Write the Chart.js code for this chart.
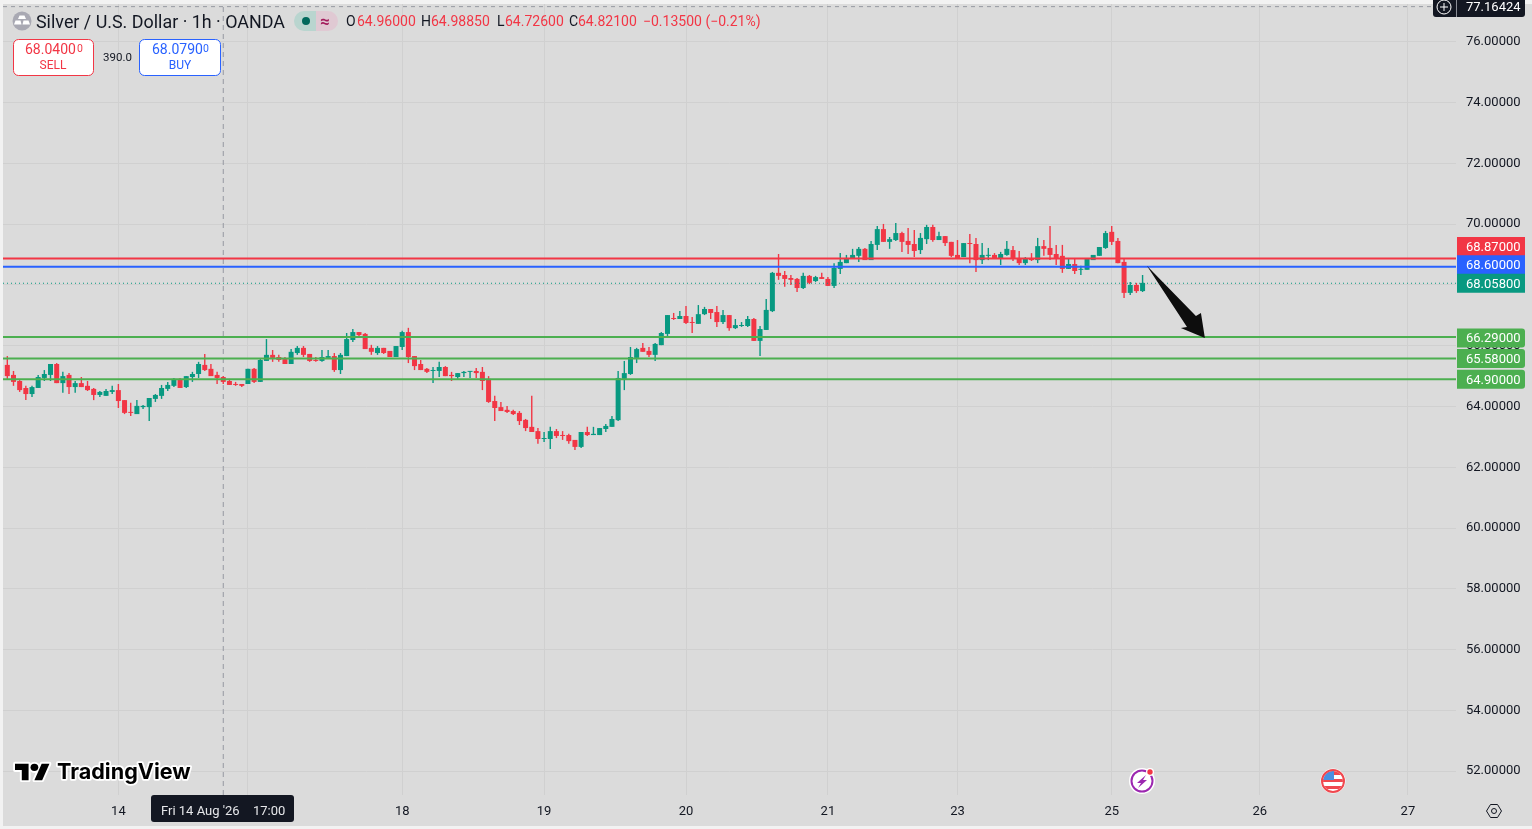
<!DOCTYPE html>
<html><head><meta charset="utf-8">
<style>html,body{margin:0;padding:0;background:#f2f2f2;overflow:hidden}#w{position:absolute;left:0;top:0;width:1532px;height:829px}</style>
<script src="https://cdn.jsdelivr.net/npm/chart.js@4"></script></head>
<body><div id="w"><canvas id="c"></canvas></div>
<script>
const highs=[65.66,65.17,64.87,64.68,64.68,65.04,65.20,65.40,65.43,65.14,
65.10,64.84,64.97,64.84,64.61,64.51,64.58,64.68,64.74,64.21,
64.12,64.21,64.05,64.28,64.41,64.71,64.81,64.94,64.94,65.00,
65.14,65.47,65.73,65.40,65.14,65.00,64.91,64.81,64.74,65.24,
65.27,65.56,66.22,65.86,65.70,65.63,65.89,65.99,65.99,65.73,
65.63,65.86,65.86,65.76,65.76,66.42,66.55,66.45,66.42,66.03,
65.99,65.93,65.83,65.99,66.49,66.59,65.66,65.53,65.27,65.30,
65.47,65.33,65.14,65.10,65.17,65.17,65.27,65.30,65.00,64.35,
64.15,64.02,63.89,63.85,63.59,64.35,63.29,63.16,63.33,63.26,
63.19,63.10,62.90,63.16,63.33,63.33,63.29,63.42,63.69,65.17,
65.50,65.96,65.93,66.09,65.96,66.09,66.45,67.01,67.08,67.14,
67.31,66.95,67.34,67.28,67.21,67.31,67.18,67.01,66.88,66.78,
66.98,66.91,66.65,67.54,68.43,69.02,68.46,68.33,68.23,68.40,
68.33,68.30,68.40,68.26,68.72,69.05,68.99,69.19,69.25,69.22,
69.45,69.94,70.01,69.58,70.04,69.75,69.88,69.81,69.71,69.98,
69.98,69.75,69.61,69.42,69.48,69.38,69.68,69.55,69.38,69.22,
69.05,69.09,69.45,69.28,69.12,68.92,69.05,69.55,69.48,69.94,
69.32,69.32,68.89,68.89,68.63,68.89,68.99,69.25,69.78,69.94,
69.55,68.86,68.10,68.07,68.33];
const lows=[64.89,64.68,64.48,64.21,64.31,64.61,64.84,64.84,64.77,64.45,
64.41,64.45,64.64,64.51,64.21,64.31,64.35,64.41,63.95,63.75,
63.69,63.75,63.92,63.52,64.15,64.25,64.51,64.64,64.61,64.61,
64.81,64.94,65.17,65.00,64.74,64.74,64.71,64.68,64.64,64.74,
64.77,64.81,65.50,65.47,65.47,65.40,65.40,65.70,65.63,65.47,
65.47,65.47,65.56,65.14,65.07,65.66,66.12,66.26,65.89,65.70,
65.70,65.73,65.63,65.63,65.86,65.43,65.20,65.20,65.10,64.77,
64.97,65.00,64.84,64.91,64.97,64.94,64.94,64.54,64.12,63.52,
63.85,63.79,63.72,63.39,63.19,63.16,62.77,62.83,62.60,62.96,
62.90,62.77,62.57,62.63,63.03,63.06,63.06,63.16,63.33,63.52,
64.54,65.04,65.43,65.80,65.63,65.50,66.02,66.32,66.85,66.88,
66.72,66.42,66.72,67.01,66.88,66.62,66.72,66.49,66.55,66.62,
66.62,66.16,65.66,66.52,67.11,68.17,67.94,68.00,67.77,67.87,
68.03,68.10,68.20,67.97,67.90,68.36,68.72,68.86,68.76,68.82,
68.82,69.15,69.42,69.19,69.45,69.09,69.02,68.92,69.02,69.35,
69.42,69.48,69.28,68.92,68.89,68.92,68.72,68.43,68.69,68.82,
68.89,68.66,68.96,68.79,68.66,68.66,68.79,68.72,68.96,68.82,
68.66,68.40,68.53,68.36,68.33,68.50,68.82,68.96,69.19,69.32,
68.72,67.57,67.67,67.74,67.77];
const opens=[65.37,65.04,64.84,64.61,64.41,64.61,64.94,65.04,65.40,64.77,
65.04,64.64,64.77,64.68,64.58,64.38,64.35,64.48,64.54,64.21,
63.82,63.75,63.98,63.98,64.25,64.35,64.58,64.68,64.91,64.64,
64.97,65.07,65.37,65.24,65.04,64.97,64.84,64.74,64.74,64.74,
65.24,64.81,65.50,65.70,65.63,65.56,65.40,65.76,65.93,65.73,
65.53,65.50,65.60,65.66,65.20,65.66,66.19,66.45,66.39,65.93,
65.76,65.93,65.83,65.63,65.96,66.45,65.66,65.40,65.24,65.17,
65.17,65.30,65.04,64.97,65.10,65.14,65.17,65.14,64.91,64.18,
63.98,63.89,63.85,63.79,63.56,63.33,63.19,62.93,62.93,63.19,
63.06,63.06,62.90,62.67,63.16,63.06,63.06,63.26,63.33,63.55,
64.91,65.07,65.60,65.93,65.83,65.70,66.02,66.39,66.91,66.88,
66.98,66.78,66.72,67.04,67.21,67.11,66.78,67.01,66.58,66.65,
66.65,66.88,66.16,66.52,67.14,68.40,68.33,68.23,68.20,67.90,
68.30,68.13,68.26,68.20,67.97,68.53,68.72,68.86,68.96,69.19,
68.82,69.32,69.84,69.42,69.48,69.71,69.45,69.35,69.15,69.51,
69.91,69.48,69.61,69.42,68.99,68.92,69.38,69.35,68.82,68.96,
68.99,68.86,68.99,69.15,68.89,68.72,68.89,68.82,69.28,69.22,
69.02,68.96,68.53,68.69,68.50,68.50,68.82,68.96,69.22,69.75,
69.45,68.76,67.74,68.00,67.80];
const closes=[65.00,64.81,64.54,64.41,64.64,64.97,65.07,65.40,64.77,65.00,
64.64,64.77,64.64,64.54,64.38,64.48,64.51,64.54,64.18,63.79,
63.79,64.02,64.02,64.28,64.38,64.61,64.71,64.91,64.61,65.00,
65.07,65.40,65.20,65.00,64.94,64.81,64.71,64.71,64.68,65.24,
64.81,65.53,65.70,65.60,65.53,65.40,65.80,65.93,65.70,65.50,
65.50,65.63,65.66,65.20,65.70,66.22,66.45,66.35,65.89,65.80,
65.93,65.76,65.63,65.99,66.45,65.63,65.33,65.20,65.14,65.20,
65.30,65.00,65.00,65.10,65.14,65.17,65.10,64.84,64.15,63.95,
63.85,63.82,63.75,63.52,63.29,63.16,62.93,62.96,63.19,63.03,
63.03,62.86,62.67,63.16,63.06,63.10,63.29,63.36,63.59,64.94,
65.10,65.63,65.89,65.80,65.70,66.06,66.42,67.01,66.88,66.98,
66.75,66.75,67.04,67.21,67.08,66.78,67.01,66.58,66.68,66.68,
66.88,66.16,66.55,67.18,68.40,68.30,68.20,68.17,67.90,68.30,
68.07,68.26,68.20,67.97,68.56,68.76,68.89,68.99,69.19,68.82,
69.35,69.84,69.42,69.51,69.71,69.42,69.32,69.12,69.55,69.91,
69.48,69.61,69.38,68.96,68.89,69.38,69.35,68.82,68.99,68.99,
68.89,69.02,69.19,68.89,68.72,68.89,68.82,69.28,69.19,68.99,
68.89,68.53,68.69,68.46,68.53,68.86,68.99,69.25,69.71,69.42,
68.72,67.74,68.00,67.80,68.07];

const tickBars=[18,39,64,87,110,133,154,179,203,227];
const tickLabels=['14','17','18','19','20','21','23','25','26','27'];
const priceTicks=[52,54,56,58,60,62,64,66,68,70,72,74,76];
const priceLevels=[68.87,68.6,68.058,66.29,65.58,64.9];
const levelColors=['#f23645','#2962ff','#089981','#4caf50','#4caf50','#4caf50'];
const levelShift=[-12,-2,0,1,0,0];
const arrowPoints=[[184.7,68.63],[192.65,66.98],[193.46,67.08],[194.1,66.255],[190.2,66.585],[191.2,66.617]];
const crossBar=35, crossPrice=77.16424;
const xMin=-0.7, xMax=234.8, yMin=51.2099, yMax=77.251;

const UP='#089981', DOWN='#f23645', INK='#131722';
const FONT='Roboto, sans-serif';
const idx=highs.map((_,i)=>i);
const colors=idx.map(i=>closes[i]>=opens[i]?UP:DOWN);
const wickData=idx.map(i=>({x:i,y:[lows[i],highs[i]]}));
const bodyData=idx.map(i=>({x:i,y:[opens[i],closes[i]]}));
const hLine=(p,color,w,dash,x2)=>({type:'line',data:[{x:xMin,y:p},{x:x2===undefined?xMax:x2,y:p}],borderColor:color,borderWidth:w,borderDash:dash||[],pointRadius:0,order:0,parsing:true});

function txt(ctx,s,x,y,font,color,align){ctx.font=font;ctx.fillStyle=color;ctx.textAlign=align||'left';ctx.textBaseline='alphabetic';ctx.fillText(s,x,y);}
function rr(ctx,x,y,w,h,r,fill,stroke,lw){ctx.beginPath();ctx.roundRect(x,y,w,h,r);if(fill){ctx.fillStyle=fill;ctx.fill();}if(stroke){ctx.strokeStyle=stroke;ctx.lineWidth=lw||1;ctx.stroke();}}

const backdrop={id:'backdrop',beforeDraw(c){const g=c.ctx;g.save();g.fillStyle='#f2f2f2';g.fillRect(0,0,1532,829);g.fillStyle='#dbdbdb';g.fillRect(3,4,1529,822);g.restore();}};
const overlay={id:'overlay',afterDraw(c){
  const g=c.ctx,X=c.scales.x,Y=c.scales.y;g.save();
  g.beginPath();arrowPoints.forEach((p,i)=>{const a=X.getPixelForValue(p[0]),b=Y.getPixelForValue(p[1]);i?g.lineTo(a,b):g.moveTo(a,b);});g.closePath();g.fillStyle='#0d0d0d';g.fill();
  priceLevels.forEach((p,i)=>{const cy=Y.getPixelForValue(p)+levelShift[i];
    g.beginPath();g.roundRect(1457,cy-9.5,68,19,i>2?[0,3,3,0]:0);g.fillStyle=levelColors[i];g.fill();
    txt(g,p.toFixed(5),1466,cy+4.5,'13px '+FONT,'#ffffff');});
  rr(g,1433,-4,92,21,3,INK);
  g.strokeStyle='#ffffff';g.lineWidth=1;g.beginPath();g.arc(1444,7,7,0,7);g.stroke();
  g.beginPath();g.moveTo(1440,7);g.lineTo(1448,7);g.moveTo(1444,3);g.lineTo(1444,11);g.stroke();
  g.strokeStyle='#8a8d96';g.beginPath();g.moveTo(1456.5,0);g.lineTo(1456.5,17);g.stroke();
  txt(g,crossPrice.toFixed(5),1466,11,'13px '+FONT,'#ffffff');
  rr(g,151,795,143,27,3,INK);
  txt(g,"Fri 14 Aug '26",161,815,'13px '+FONT,'#e6e7ea');
  txt(g,'17:00',253,815,'13px '+FONT,'#e6e7ea');
  g.fillStyle='#a9a9b3';g.beginPath();g.arc(22,21,9.5,0,7);g.fill();
  g.fillStyle='#ffffff';g.beginPath();g.moveTo(19.5,15.5);g.lineTo(24.5,15.5);g.lineTo(26,19);g.lineTo(18,19);g.closePath();g.fill();
  g.beginPath();g.moveTo(15.5,20.5);g.lineTo(20.5,20.5);g.lineTo(21.5,24.5);g.lineTo(14,24.5);g.closePath();g.fill();
  g.beginPath();g.moveTo(23.5,20.5);g.lineTo(28.5,20.5);g.lineTo(30,24.5);g.lineTo(22.5,24.5);g.closePath();g.fill();
  txt(g,'Silver / U.S. Dollar · 1h · OANDA',36,28,'17.9px '+FONT,INK);
  g.beginPath();g.roundRect(294,11,22,20,[10,0,0,10]);g.fillStyle='#b9d5cf';g.fill();
  g.beginPath();g.roundRect(316,11,22,20,[0,10,10,0]);g.fillStyle='#e0c9d3';g.fill();
  g.fillStyle='#00695c';g.beginPath();g.arc(306,21,4,0,7);g.fill();
  txt(g,'≈',320,27,'bold 17px '+FONT,'#a31c5c');
  const ohlc=[['O','64.96000',346,357],['H','64.98850',421,431],['L','64.72600',497,505],['C','64.82100',569,578]];
  ohlc.forEach(r=>{txt(g,r[0],r[2],26,'14px '+FONT,INK);txt(g,r[1],r[3],26,'14px '+FONT,DOWN);});
  txt(g,'−0.13500 (−0.21%)',643,26,'14px '+FONT,DOWN);
  rr(g,13.5,39.5,80,36,5,'#ffffff',DOWN);
  rr(g,139.5,39.5,81,36,5,'#ffffff','#2962ff');
  txt(g,'68.0400',25,54,'14px '+FONT,DOWN);txt(g,'0',77,52,'10.5px '+FONT,DOWN);
  txt(g,'SELL',53,69,'12px '+FONT,DOWN,'center');
  txt(g,'68.0790',152,54,'14px '+FONT,'#2962ff');txt(g,'0',203,52,'10.5px '+FONT,'#2962ff');
  txt(g,'BUY',180,69,'12px '+FONT,'#2962ff','center');
  txt(g,'390.0',103,61,'11.5px '+FONT,INK);
  g.save();g.translate(15,760);g.scale(0.97,0.92);
  const tv=new Path2D('M14 22H7V11H0V4h14v18zM28 22h-8l7.5-18h8L28 22z');
  g.lineJoin='round';g.strokeStyle='#ffffff';g.lineWidth=4;g.stroke(tv);
  g.beginPath();g.arc(20,8,4,0,7);g.stroke();
  g.fillStyle='#000000';g.fill(tv);g.beginPath();g.arc(20,8,4,0,7);g.fill();g.restore();
  g.font='bold 21.6px Inter, sans-serif';g.textAlign='left';g.lineJoin='round';g.lineWidth=3.5;g.strokeStyle='#ffffff';g.strokeText('TradingView',57,779);g.fillStyle='#000000';g.fillText('TradingView',57,779);
  g.fillStyle='#ffffff';g.beginPath();g.arc(1142,781,13,0,7);g.fill();
  g.strokeStyle='#9c27b0';g.lineWidth=2;g.beginPath();g.arc(1142,781,10.5,0,7);g.stroke();
  g.fillStyle='#9c27b0';g.beginPath();g.moveTo(1146,775);g.lineTo(1137,783);g.lineTo(1141,783);g.lineTo(1138,788);g.lineTo(1147,780);g.lineTo(1143,780);g.closePath();g.fill();
  g.fillStyle='#ffffff';g.beginPath();g.arc(1150,772,4,0,7);g.fill();g.fillStyle='#f23645';g.beginPath();g.arc(1150,772,2.7,0,7);g.fill();
  g.fillStyle='#ffffff';g.beginPath();g.arc(1333,781,12.5,0,7);g.fill();
  g.save();g.beginPath();g.arc(1333,781,10,0,7);g.clip();
  g.fillStyle='#ffffff';g.fillRect(1322,770,22,22);
  g.fillStyle='#f0484f';g.fillRect(1322,771,22,4);g.fillRect(1322,779,22,3);g.fillRect(1322,786,22,3);
  g.fillStyle='#4a90e2';g.fillRect(1322,771,12,9);g.restore();
  g.strokeStyle='#f0484f';g.lineWidth=2;g.beginPath();g.arc(1333,781,11,0,7);g.stroke();
  g.strokeStyle=INK;g.lineWidth=1;
  g.beginPath();g.moveTo(1486.5,811);g.lineTo(1490.5,804.5);g.lineTo(1497.5,804.5);g.lineTo(1501.5,811);g.lineTo(1497.5,817.5);g.lineTo(1490.5,817.5);g.closePath();g.stroke();
  g.beginPath();g.arc(1494,811,2.5,0,7);g.stroke();
  g.restore();
}};

Chart.defaults.animation=false;
new Chart(document.getElementById('c'),{
  type:'bar',
  data:{datasets:[
    hLine(priceLevels[0],levelColors[0],2),
    hLine(priceLevels[1],levelColors[1],2),
    hLine(priceLevels[2],levelColors[2],1.2,[1,3]),
    hLine(priceLevels[3],levelColors[3],2),
    hLine(priceLevels[4],levelColors[4],2),
    hLine(priceLevels[5],levelColors[5],2),
    hLine(crossPrice,'#9598a1',1,[4,4],(1433-7.3)/6.17),
    {type:'line',data:[{x:crossBar,y:yMin},{x:crossBar,y:yMax}],borderColor:'#9598a1',borderWidth:1,borderDash:[5,4],pointRadius:0,order:3},
    {label:'Body',data:bodyData,backgroundColor:colors,barThickness:5,grouped:false,inflateAmount:0,minBarLength:1,order:1},
    {label:'Wick',data:wickData,backgroundColor:colors,barThickness:1.4,grouped:false,inflateAmount:0,order:2}
  ]},
  options:{
    responsive:true,maintainAspectRatio:false,animation:false,
    layout:{padding:{left:3,top:4,right:0,bottom:3}},
    events:[],
    plugins:{legend:{display:false},tooltip:{enabled:false},title:{display:false}},
    scales:{
      x:{type:'linear',offset:false,min:xMin,max:xMax,
        afterBuildTicks(a){a.ticks=tickBars.map(v=>({value:v}));},
        afterFit(a){a.height=31;a.paddingLeft=0;a.paddingRight=0;},
        grid:{color:'#d0d0d0',lineWidth:1,drawTicks:false,offset:false},border:{display:false},
        ticks:{autoSkip:false,maxRotation:0,padding:9,color:INK,font:{family:'Roboto',size:13},
          callback(v){const i=tickBars.indexOf(v);return i<0?'':tickLabels[i];}}},
      y:{type:'linear',position:'right',min:yMin,max:yMax,
        afterBuildTicks(a){a.ticks=priceTicks.map(v=>({value:v}));},
        afterFit(a){a.width=76;a.paddingTop=0;a.paddingBottom=0;},
        grid:{color:'#d0d0d0',lineWidth:1,drawTicks:false},border:{display:false},
        ticks:{autoSkip:false,padding:10,color:INK,font:{family:'Roboto',size:13},callback(v){return Number(v).toFixed(5);}}}
    }
  },
  plugins:[backdrop,overlay]
});
</script></body></html>
